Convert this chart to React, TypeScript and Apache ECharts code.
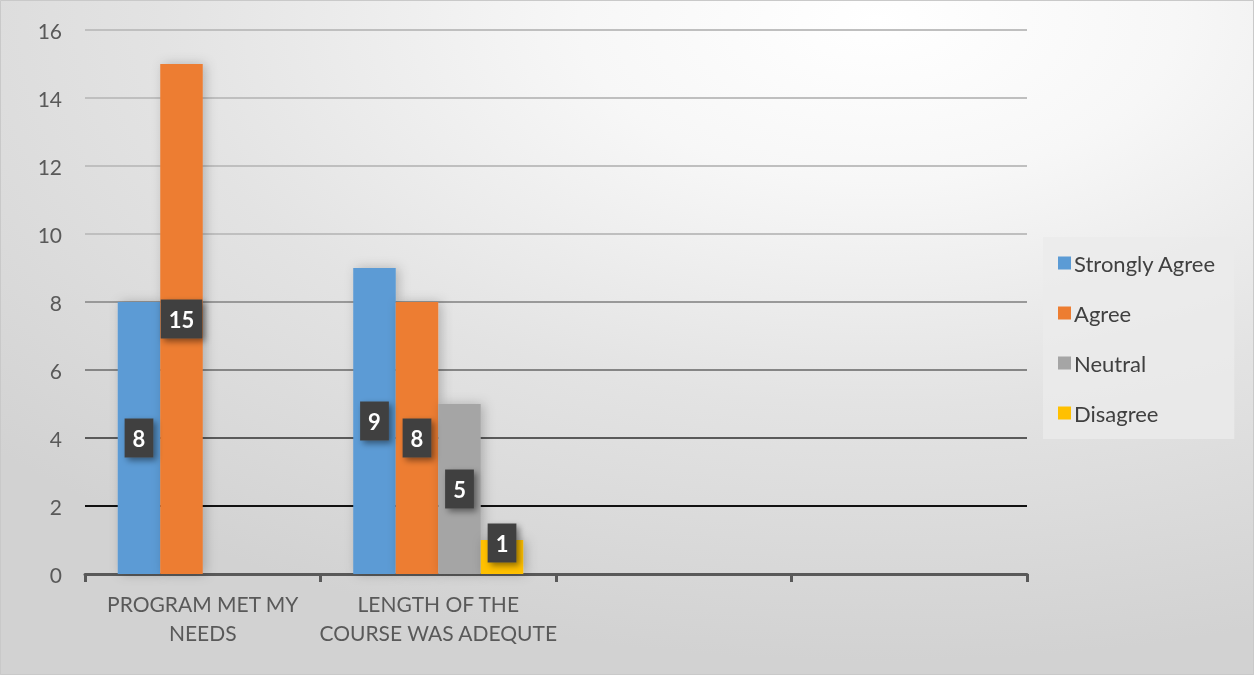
import React, { useEffect, useRef } from "react";
import * as echarts from "echarts";

const categories = ["PROGRAM MET MY\nNEEDS", "LENGTH OF THE\nCOURSE WAS ADEQUTE", "", ""];
const seriesNames = ["Strongly Agree", "Agree", "Neutral", "Disagree"];
const stronglyAgree = [8, 9, null, null];
const agree = [15, 8, null, null];
const neutral = [null, 5, null, null];
const disagree = [null, 1, null, null];
const seriesColors = ["#5B9BD5", "#ED7D31", "#A5A5A5", "#FFC000"];
const yTicks = { min: 0, max: 16, interval: 2 };
const gridColors = ["#555555", "#111111", "#5a5a5a", "#858585", "#999999", "#bfbfbf", "#bfbfbf", "#bfbfbf", "#bfbfbf"];
const labelOffsets = [[0, 0], [0, 0], [0, 0], [0, -14]];

const FONT = "Lato, 'Open Sans', sans-serif";

export default function App() {
  const ref = useRef<HTMLDivElement>(null);
  useEffect(() => {
    if (!ref.current) return;
    const chart = echarts.init(ref.current, null, { renderer: "svg" });
    const values = [stronglyAgree, agree, neutral, disagree];
    chart.setOption({
      animation: false,
      backgroundColor: {
        type: "radial",
        x: 0.7,
        y: 0.03,
        r: 0.95,
        colorStops: [
          { offset: 0, color: "#ffffff" },
          { offset: 0.25, color: "#f7f7f7" },
          { offset: 0.6, color: "#e3e3e3" },
          { offset: 1, color: "#d2d2d2" },
        ],
      },
      graphic: [
        {
          type: "rect",
          shape: { x: 0.5, y: 0.5, width: 1253, height: 674 },
          style: { fill: "none", stroke: "#c9c9c9", lineWidth: 1 },
          silent: true,
        },
      ],
      grid: { left: 85, right: 227, top: 30, bottom: 101, containLabel: false },
      legend: {
        orient: "vertical",
        left: 1043,
        top: 237,
        padding: [15, 18, 15, 15],
        itemGap: 28,
        itemWidth: 13,
        itemHeight: 13,
        backgroundColor: "rgba(235,235,235,0.8)",
        icon: "rect",
        data: seriesNames,
        textStyle: { fontFamily: FONT, fontSize: 22, color: "#404040", padding: [0, 0, 0, -2] },
      },
      xAxis: {
        type: "category",
        data: categories,
        axisLine: { show: true, lineStyle: { color: "#595959", width: 3 } },
        axisTick: { show: true, length: 8, lineStyle: { color: "#595959", width: 3 } },
        axisLabel: {
          fontFamily: FONT,
          fontSize: 21,
          color: "#595959",
          lineHeight: 29,
          margin: 15,
          interval: 0,
        },
        splitLine: { show: false },
      },
      yAxis: {
        type: "value",
        min: yTicks.min,
        max: yTicks.max,
        interval: yTicks.interval,
        axisLine: { show: false },
        axisTick: { show: false },
        axisLabel: { fontFamily: FONT, fontSize: 21, color: "#595959", margin: 23 },
        splitLine: { show: true, lineStyle: { color: gridColors, width: 2 } },
      },
      series: seriesNames.map((name, i) => ({
        name,
        type: "bar",
        data: values[i],
        barGap: "0%",
        barCategoryGap: "27.8%",
        itemStyle: {
          color: seriesColors[i],
          shadowBlur: 12,
          shadowColor: "rgba(0,0,0,0.22)",
          shadowOffsetX: 3,
          shadowOffsetY: 0,
        },
        label: {
          show: true,
          position: "inside",
          offset: labelOffsets[i],
          fontFamily: FONT,
          fontSize: 22,
          fontWeight: "bold",
          color: "#ffffff",
          backgroundColor: "#404040",
          padding: [9, 8, 8, 8],
          shadowColor: "rgba(0,0,0,0.45)",
          shadowBlur: 6,
          shadowOffsetX: 3,
          shadowOffsetY: 3,
        },
      })),
    });
    return () => chart.dispose();
  }, []);
  return (
    <div
      ref={ref}
      style={{ position: "fixed", left: 0, top: 0, width: 1254, height: 675 }}
    />
  );
}
